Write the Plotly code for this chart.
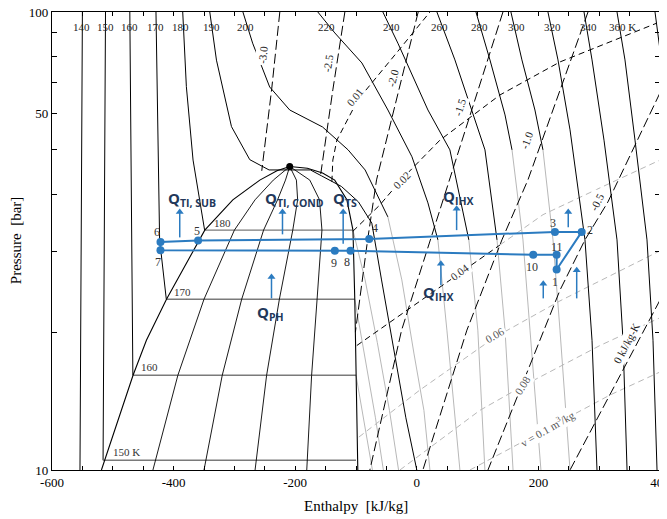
import math
import plotly.graph_objects as go

# ---------------- data (h in kJ/kg, p in bar) ----------------
sat_liq_h = [-518.7, -466.7, -444.7, -411.7, -348.7, -302.6, -258.2, -230.0, -209.0]
sat_liq_p = [10.0, 16.1, 19.2, 23.6, 33.4, 38.9, 42.95, 45.0, 46.0]
sat_vap_h = [-209.0, -180.0, -155.0, -135.0, -115.0, -105.0, -102.0, -100.0, -97.0]
sat_vap_p = [46.0, 45.6, 44.5, 42.95, 38.9, 33.4, 23.6, 16.1, 10.0]

quality_p = [10.0, 16.1, 23.6, 33.4, 38.9, 42.95, 46.0]
quality_h = {
    "0.2": [-434.0, -393.0, -350.0, -300.0, -266.0, -236.0, -209.0],
    "0.4": [-350.0, -320.0, -288.0, -252.0, -229.0, -216.0, -209.0],
    "0.6": [-266.0, -247.0, -226.0, -204.0, -196.0, -198.0, -209.0],
    "0.8": [-181.0, -173.0, -164.0, -156.0, -160.0, -176.0, -209.0],
}

# isotherms: T -> (h list, p list); the part below grey_below_p is drawn grey
iso_T = {
    140: ([-550, -554], [100, 10]),
    150: ([-512, -516], [100, 10.5]),
    160: ([-472, -469, -467], [100, 31.8, 16.1]),
    170: ([-429, -423, -412], [100, 31.8, 23.6]),
    180: ([-385, -379, -368, -349], [100, 68.7, 47.5, 33.4]),
    190: ([-340.5, -329.5, -304.8, -274.7, -243, -175, -157, -124, -96, -74, -58, -40, -18, 0],
          [100, 78.5, 56.2, 47.6, 45.2, 45.2, 43.9, 41.6, 38.5, 34.6, 26.0, 19.0, 13.0, 10.0]),
    200: ([-286, -270, -242, -209, -155, -113, -85, -64, -47.6, -24.6, -4.8, 11.7, 21.6],
          [100, 85.5, 68.6, 61.1, 56.1, 50, 45.2, 39.4, 35.7, 26, 18, 13.5, 10]),
    220: ([-162.8, -134.8, -90.3, -47.5, -8.0, 18.3, 34.7, 49.5, 70.9],
          [100, 90, 77.4, 61.1, 48.3, 38.3, 31.8, 20.2, 10]),
    240: ([-55.8, -31.1, 18.3, 54.4, 85.6, 100.4, 112.0],
          [100, 85.5, 61.1, 50, 31.8, 20.2, 10]),
    260: ([33.1, 62.7, 95.7, 112.1, 131.9, 145.1, 158.3],
          [100, 78.6, 58.1, 50, 31.8, 20.2, 10]),
    280: ([97.3, 120.3, 145.1, 156.6, 174.6, 186.2, 204.2],
          [100, 78.6, 59.6, 50, 31.8, 20.2, 10]),
    300: ([154.8, 172.9, 194.3, 207.5, 224.0, 235.5, 252.0],
          [100, 78.6, 61.1, 50, 31.8, 20.2, 10]),
    320: ([215.7, 232.2, 252.0, 276.6, 288.2, 296.4], [100, 78.6, 55.3, 31.8, 19.2, 10]),
    340: ([275.0, 288.2, 307.9, 329.3, 339.2, 345.8], [100, 78.6, 52.5, 31.8, 19.2, 10]),
    360: ([329.3, 342.4, 358.9, 378.6, 388.5, 395.1], [100, 78.6, 52.5, 31.8, 19.2, 10]),
    380: ([391.8, 400.0], [100, 82.6]),
}
grey_below_p = {200: 35.7, 220: 31.8, 240: 31.8, 260: 31.8, 280: 50.0, 300: 50.0}

# superheated-vapour isotherms drawn grey
grey_vap_T = {
    160: ([-100, -85, -73], [16.1, 12.5, 10.0]),
    170: ([-102, -85, -68, -55], [23.6, 17.5, 13.0, 10.0]),
    180: ([-105, -85, -65, -45, -30], [33.4, 26.0, 19.0, 13.5, 10.0]),
}

two_phase_p = {150: 10.5, 160: 16.1, 170: 23.6, 180: 33.4}
two_phase_h = {150: (-516, -100), 160: (-467, -100), 170: (-412, -102), 180: (-349, -105)}

iso_s = {
    "-3.0": ([-225.3, -238.5, -255.0], [100, 68.2, 45.0]),
    "-2.5": ([-118.3, -138.1, -158.0], [100, 67.6, 44.3]),
    "-2.0": ([2.3, -27.8, -66.2, -80.9, -97.4, -101.0], [100, 69.2, 43.0, 31.8, 21.3, 20.0]),
    "-1.5": ([141.7, 54.4, 16.6, -25.0, -77.2], [100, 43.0, 30.2, 20.2, 10.0]),
    "-1.0": ([281.6, 182.8, 140.0, 82.4, 10.0], [100, 43.0, 31.8, 20.2, 10.0]),
    "-0.5": ([400.0, 314.4, 276.6, 235.5, 117.0], [66.6, 38.5, 31.8, 24.7, 10.0]),
    "0": ([400.0, 326.0, 252.0], [23.5, 15.3, 10.0]),
}

iso_v_black = {
    "0.01": ([-139.7, -138.1, -131.5, -96.9, -36.0, 21.6], [42.6, 47.5, 52.5, 64.3, 80.6, 100]),
    "0.02": ([-105.2, -60.8, -23.0, 38.0, 136.8, 235.5, 395.1], [33.2, 37.9, 43.4, 52.5, 65.9, 77.8, 94.6]),
    "0.04": ([-98.6, -27.8, 70.9, 136.8], [18.7, 21.8, 26.9, 31.0]),
}
iso_v_grey = {
    "0.04": ([136.8, 207.6, 301.3, 400.0], [31.0, 36.1, 41.3, 47.5]),
    "0.06": ([-95.3, 5.1, 128.6, 235.5, 400.0], [11.8, 14.95, 19.5, 23.4, 30.1]),
    "0.08": ([-27.8, 5.1, 103.8, 174.6, 301.3, 400.0], [10.0, 10.78, 13.5, 15.26, 18.7, 21.5]),
    "0.1": ([87.4, 215.7, 317.8, 400.0], [10.0, 12.35, 14.58, 16.37]),
}

# top temperature labels
T_lab_text = ["140", "150", "160", "170", "180", "190", "200", "220", "240", "260", "280", "300", "320", "340", "360 K"]
T_lab_h = [-551.1, -511.6, -472.1, -429.3, -388.2, -337.1, -281.3, -148.0, -41.0, 38.0, 103.8, 164.7, 224.0, 281.6, 338.0]
T_lab_p = 92.7
tp_lab_text = ["150 K", "160", "170", "180"]
tp_lab_h = [-477.6, -439.2, -384.9, -319.1]
tp_lab_p = [10.96, 16.8, 24.5, 34.6]

s_lab_text = ["-3.0", "-2.5", "-2.0", "-1.5", "-1.0", "-0.5", "0 kJ/kg-K"]
s_lab_h = [-253.3, -146.0, -39.4, 70.9, 181.1, 296.2, 345.6]
s_lab_p = [80.6, 77.4, 71.8, 62.0, 52.5, 38.5, 18.9]
s_lab_ang = [-84, -81, -76, -72, -70, -63, -62]

v_lab_text = ["0.01", "0.02", "0.04", "0.06", "0.08", "v = 0.1 m<sup>3</sup>/kg"]
v_lab_h = [-101.9, -24.6, 70.9, 128.6, 174.6, 215.7]
v_lab_p = [65.3, 43.0, 27.0, 19.7, 15.3, 12.35]
v_lab_ang = [-51, -45, -38, -30, -58, -30]

# cycle states
cyc_label = ["1", "2", "3", "4", "5", "6", "7", "9", "8", "10", "11"]
cyc_h = [230.0, 271.2, 227.2, -78.3, -359.7, -421.6, -421.6, -134.8, -109.0, 191.5, 230.0]
cyc_p = [27.4, 33.1, 33.1, 31.95, 31.7, 31.46, 30.2, 30.1, 30.1, 29.5, 29.5]
lab_h = [227.2, 284.8, 224.0, -68.9, -361.9, -427.7, -426.0, -136.4, -115.0, 189.4, 230.5]
lab_p = [25.7, 33.4, 34.6, 33.7, 33.2, 33.1, 28.4, 28.3, 28.4, 27.7, 30.7]
crit_h, crit_p = -209.0, 46.0

Q_text = ["Q<sub>TI, SUB</sub>", "Q<sub>TI, COND</sub>", "Q<sub>TS</sub>", "Q<sub>IHX</sub>", "Q<sub>IHX</sub>", "Q<sub>PH</sub>"]
Q_h = [-369.8, -200.6, -118.3, 67.1, 35.2, -240.6]
Q_p = [39.1, 39.1, 39.1, 39.5, 24.3, 22.0]

arrow_h = [-389.9, -220.9, -239.0, -121.1, 65.5, 39.6, 249.1, 208.0, 263.0]
arrow_p0 = [32.2, 32.7, 23.7, 31.2, 33.4, 25.3, 33.9, 23.7, 23.7]
arrow_p1 = [36.6, 36.6, 26.4, 36.6, 37.2, 28.2, 36.6, 25.5, 27.3]

BLUE = "#2b7bc0"
NAVY = "#22385a"
GREY = "#b8b8b8"

fig = go.Figure()

def line(h, p, color="black", width=1.0, dash="solid"):
    fig.add_trace(go.Scatter(x=h, y=p, mode="lines", line=dict(color=color, width=width, dash=dash),
                             hoverinfo="skip", showlegend=False))

# grey background families first
for k, (h, p) in iso_v_grey.items():
    line(h, p, color=GREY, width=1.0, dash="6px,4px")
for T, (h, p) in grey_vap_T.items():
    line(h, p, color=GREY, width=1.0)
for T, (h, p) in iso_T.items():
    if T in grey_below_p:
        thr = grey_below_p[T]
        hi = [(a, b) for a, b in zip(h, p) if b >= thr]
        lo = [(a, b) for a, b in zip(h, p) if b <= thr]
        if lo[0] != hi[-1]:
            lo = [hi[-1]] + lo
        line([a for a, b in lo], [b for a, b in lo], color=GREY, width=1.0)
        line([a for a, b in hi], [b for a, b in hi], width=1.0)
    else:
        line(h, p, width=1.0)
for T, pp in two_phase_p.items():
    line(list(two_phase_h[T]), [pp, pp], color="#7a7a7a", width=1.4)
line(sat_liq_h, sat_liq_p, width=1.1)
line(sat_vap_h, sat_vap_p, width=1.1)
for k, hh in quality_h.items():
    line(hh, quality_p, width=0.9)
for k, (h, p) in iso_s.items():
    line(h, p, width=1.0, dash="10px,4px")
for k, (h, p) in iso_v_black.items():
    line(h, p, width=1.0, dash="6px,4px")

# heat arrows (shaft + head)
for h, p0, p1 in zip(arrow_h, arrow_p0, arrow_p1):
    line([h, h], [p0, p1], color=BLUE, width=1.5)
fig.add_trace(go.Scatter(x=arrow_h, y=arrow_p1, mode="markers",
                         marker=dict(symbol="triangle-up", size=7, color=BLUE),
                         hoverinfo="skip", showlegend=False))

# cycle path
order = [0, 1, 2, 3, 4, 5, 6, 7, 8, 9, 10, 0]
fig.add_trace(go.Scatter(x=[cyc_h[i] for i in order], y=[cyc_p[i] for i in order], mode="lines",
                         line=dict(color=BLUE, width=2), hoverinfo="skip", showlegend=False))
fig.add_trace(go.Scatter(x=cyc_h, y=cyc_p, mode="markers", marker=dict(color=BLUE, size=8),
                         hoverinfo="skip", showlegend=False))
fig.add_trace(go.Scatter(x=[crit_h], y=[crit_p], mode="markers", marker=dict(color="black", size=7),
                         hoverinfo="skip", showlegend=False))

L = math.log10
ann = []
def text(x, y, s, size=11, color="#222222", angle=0, family="Liberation Serif", bg=None, weight="normal"):
    d = dict(x=x, y=L(y), xref="x", yref="y", text=s, showarrow=False, textangle=angle,
             font=dict(family=family, size=size, color=color, weight=weight))
    if bg:
        d["bgcolor"] = bg
    ann.append(d)

for t, h in zip(T_lab_text, T_lab_h):
    text(h, T_lab_p, t, size=11)
for t, h, p in zip(tp_lab_text, tp_lab_h, tp_lab_p):
    text(h, p, t, size=11, color="#333333")
for t, h, p, a in zip(s_lab_text, s_lab_h, s_lab_p, s_lab_ang):
    text(h, p, t, size=11, angle=a, bg="white")
for i, (t, h, p, a) in enumerate(zip(v_lab_text, v_lab_h, v_lab_p, v_lab_ang)):
    text(h, p, t, size=11, angle=a, color="#333333" if i < 3 else "#555555", bg="white")
for t, h, p in zip(cyc_label, lab_h, lab_p):
    text(h, p, t, size=12, color="#333333")
for t, h, p in zip(Q_text, Q_h, Q_p):
    text(h, p, t, size=15, color=NAVY, family="Open Sans", weight="bold")

# axis titles
ann.append(dict(x=0.5, y=-0.079, xref="paper", yref="paper", text="Enthalpy  [kJ/kg]", showarrow=False,
                yanchor="middle", font=dict(family="Liberation Serif", size=15, color="black")))
ann.append(dict(x=-0.059, y=0.5, xref="paper", yref="paper", text="Pressure  [bar]", showarrow=False,
                textangle=-90, xanchor="center", yanchor="middle",
                font=dict(family="Liberation Serif", size=15, color="black")))

x_major = [-600, -400, -200, 0, 200, 400]
x_major_text = ["-600", "-400", "-200", "0", "200", "400"]
x_minor = [-550, -500, -450, -350, -300, -250, -150, -100, -50, 50, 100, 150, 250, 300, 350]
y_major = [10, 60, 100]
y_major_text = ["10", "50", "100"]
y_minor = [20, 30, 40, 50, 70, 80, 90]

fig.update_layout(
    width=659, height=511, margin=dict(l=44, r=7, t=4, b=49, autoexpand=False),
    paper_bgcolor="white", plot_bgcolor="white", annotations=ann,
    font=dict(family="Liberation Serif", size=13, color="black"),
    xaxis=dict(range=[-600, 400], tickvals=x_major, ticktext=x_major_text, showline=True, linecolor="black",
               linewidth=1.2, mirror="ticks", ticks="inside", ticklen=4, tickcolor="black",
               minor=dict(tickvals=x_minor, ticks="inside", ticklen=4, tickcolor="black"),
               ticklabeloverflow="allow",
               showgrid=False, zeroline=False, automargin=False, tickfont=dict(size=13)),
    yaxis=dict(type="log", range=[1, 2], tickvals=y_major, ticktext=y_major_text,
               showline=True, linecolor="black", linewidth=1.2, mirror="ticks", ticks="inside", ticklen=5,
               minor=dict(tickvals=y_minor, ticks="inside", ticklen=5, tickcolor="black"),
               ticklabeloverflow="allow",
               tickcolor="black", showgrid=False, zeroline=False, automargin=False, tickfont=dict(size=13)),
)
fig.write_html("out.html")
